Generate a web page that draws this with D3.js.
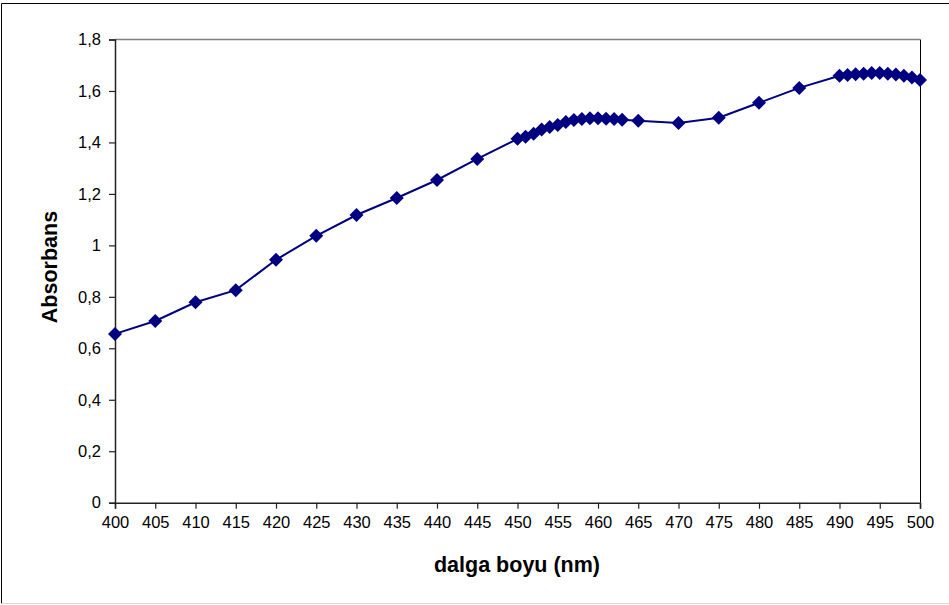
<!DOCTYPE html>
<html>
<head>
<meta charset="utf-8">
<script src="https://cdn.jsdelivr.net/npm/d3@7"></script>
<style>
  html, body { margin: 0; padding: 0; background: #fff; }
  svg { display: block; }
</style>
</head>
<body>
<svg id="chart" width="949" height="605"></svg>
<script>
// Absorbance spectrum, 400–500 nm
const wavelengths = [
  400, 405, 410, 415, 420, 425, 430, 435, 440, 445,
  450, 451, 452, 453, 454, 455, 456, 457, 458, 459, 460, 461, 462, 463,
  465, 470, 475, 480, 485,
  490, 491, 492, 493, 494, 495, 496, 497, 498, 499, 500
];
const absorbance = [
  0.656, 0.706, 0.779, 0.826, 0.944, 1.037, 1.118, 1.184, 1.254, 1.336,
  1.414, 1.422, 1.434, 1.450, 1.460, 1.468, 1.479, 1.487, 1.491, 1.494, 1.494, 1.492, 1.491, 1.488,
  1.484, 1.476, 1.496, 1.554, 1.612,
  1.659, 1.662, 1.665, 1.667, 1.670, 1.670, 1.667, 1.664, 1.659, 1.652, 1.643
];
const xTicks = d3.range(400, 501, 5);
const yTicks = [0, 0.2, 0.4, 0.6, 0.8, 1, 1.2, 1.4, 1.6, 1.8];
const xTitle = "dalga boyu (nm)";
const yTitle = "Absorbans";

const data = wavelengths.map((w, i) => ({ w, a: absorbance[i] }));

const svg = d3.select("#chart");
const plot = { left: 115, right: 920, top: 39.5, bottom: 502.7 };
const font = "'Liberation Sans', Arial, sans-serif";

// outer chart frame
svg.append("line").attr("x1", 1.5).attr("x2", 1.5).attr("y1", 3.5).attr("y2", 603.5)
  .attr("stroke", "#000").attr("stroke-width", 1);
svg.append("line").attr("x1", 1.5).attr("x2", 949).attr("y1", 3.5).attr("y2", 3.5)
  .attr("stroke", "#000").attr("stroke-width", 1);
svg.append("line").attr("x1", 1.5).attr("x2", 949).attr("y1", 603.5).attr("y2", 603.5)
  .attr("stroke", "#d9d9d9").attr("stroke-width", 1);

const x = d3.scaleLinear().domain([400, 500]).range([plot.left, plot.right]);
const y = d3.scaleLinear().domain([0, 1.8]).range([plot.bottom, plot.top]);

// plot area border: top grey, right dark
svg.append("line").attr("x1", plot.left).attr("x2", plot.right)
  .attr("y1", plot.top).attr("y2", plot.top)
  .attr("stroke", "#808080").attr("stroke-width", 1.5);
svg.append("line").attr("x1", plot.right + 0.5).attr("x2", plot.right + 0.5)
  .attr("y1", plot.top).attr("y2", plot.bottom)
  .attr("stroke", "#000").attr("stroke-width", 1);

const fmt = v => String(+v.toFixed(1)).replace(".", ",");

// y axis
const yAxis = svg.append("g")
  .attr("transform", `translate(${plot.left},0)`)
  .call(d3.axisLeft(y).tickValues(yTicks).tickSize(6).tickPadding(8).tickFormat(fmt));
// x axis
const xAxis = svg.append("g")
  .attr("transform", `translate(0,${plot.bottom})`)
  .call(d3.axisBottom(x).tickValues(xTicks).tickSize(6).tickPadding(8).tickFormat(d3.format("d")));

[yAxis, xAxis].forEach(g => {
  g.select(".domain").attr("stroke", "#222").attr("stroke-width", 1.5);
  g.selectAll(".tick line").attr("stroke", "#222").attr("stroke-width", 1.2);
  g.selectAll(".tick text")
    .attr("fill", "#000")
    .style("font-family", font)
    .style("font-size", "16.5px");
});

// series line
svg.append("path")
  .datum(data)
  .attr("fill", "none")
  .attr("stroke", "#000080")
  .attr("stroke-width", 2)
  .attr("d", d3.line().x(d => x(d.w)).y(d => y(d.a)));

// diamond markers
svg.append("g").selectAll("path")
  .data(data)
  .join("path")
  .attr("transform", d => `translate(${x(d.w)},${y(d.a)})`)
  .attr("d", "M0,-7L7,0L0,7L-7,0Z")
  .attr("fill", "#000080");

// axis titles
svg.append("text")
  .attr("x", 517)
  .attr("y", 572)
  .attr("text-anchor", "middle")
  .style("font-family", font)
  .style("font-size", "21.5px")
  .style("font-weight", "bold")
  .text(xTitle);

svg.append("text")
  .attr("transform", `translate(57,267) rotate(-90)`)
  .attr("text-anchor", "middle")
  .style("font-family", font)
  .style("font-size", "21.5px")
  .style("font-weight", "bold")
  .text(yTitle);
</script>
</body>
</html>
